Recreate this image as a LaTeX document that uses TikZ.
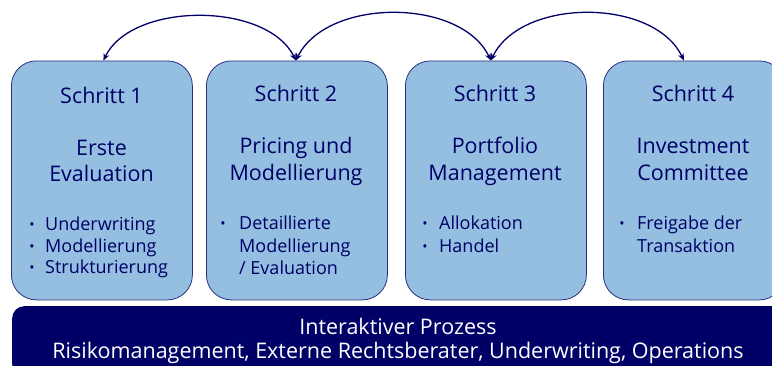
\documentclass[tikz,border=0pt]{standalone}
\usepackage{fontspec}
\setmainfont{Open Sans}
\usetikzlibrary{arrows.meta}
\definecolor{navy}{HTML}{000066}
\definecolor{boxblue}{HTML}{95BFE1}
\definecolor{boxline}{HTML}{28307E}
\begin{document}
\begin{tikzpicture}[x=1pt,y=-1pt,
  stepbox/.style={draw=boxline, line width=0.8pt, fill=boxblue, rounded corners=25pt,
    minimum width=181pt, minimum height=239pt, anchor=north west, inner sep=0pt},
  barbox/.style={fill=navy, rounded corners=12pt, minimum width=790pt, minimum height=70pt,
    anchor=north west, inner sep=0pt},
  ttl/.style={anchor=base, font=\fontsize{21.5}{26}\selectfont, text=navy, inner sep=0pt},
  bul/.style={anchor=base west, font=\fontsize{18}{21.5}\selectfont, text=navy, inner sep=0pt},
  dot/.style={anchor=base, font=\fontsize{14}{14}\selectfont, text=navy, inner sep=0pt},
  bartxt/.style={anchor=base, font=\fontsize{21.5}{24}\selectfont, text=white, inner sep=0pt},
  arc/.style={draw=navy, line width=1.3pt, {Stealth[length=7pt,width=6pt]}-{Stealth[length=7pt,width=6pt]}}
]
\useasboundingbox (0,0) rectangle (772,365);
\clip (0,0) rectangle (772,365);
% boxes
\node[stepbox] (b1) at (11,60.5) {};
\node[stepbox] (b2) at (206,60.5) {};
\node[stepbox] (b3) at (405,60.5) {};
\node[stepbox] (b4) at (603,60.5) {};
\node[barbox] (bar) at (12,306) {};
% box 1
\node[ttl] (s1) at (101.5,103) {Schritt 1};
\node[ttl] (t1a) at (101.5,155) {Erste};
\node[ttl] (t1b) at (101.5,181) {Evaluation};
\node[dot] (d1a) at (32,229.5) {\textbullet};
\node[dot] (d1b) at (32,251.5) {\textbullet};
\node[dot] (d1c) at (32,272.5) {\textbullet};
\node[bul] (u1a) at (45,230) {Underwriting};
\node[bul] (u1b) at (45,252) {Modellierung};
\node[bul] (u1c) at (45,273) {Strukturierung};
% box 2
\node[ttl] (s2) at (296,101) {Schritt 2};
\node[ttl] (t2a) at (296,153) {Pricing und};
\node[ttl] (t2b) at (296,180) {Modellierung};
\node[dot] (d2a) at (223,228.5) {\textbullet};
\node[bul] (u2a) at (239,229) {Detaillierte};
\node[bul] (u2b) at (239,252) {Modellierung};
\node[bul] (u2c) at (239,274) {/ Evaluation};
% box 3
\node[ttl] (s3) at (495,101) {Schritt 3};
\node[ttl] (t3a) at (495,153) {Portfolio};
\node[ttl] (t3b) at (495,180) {Management};
\node[dot] (d3a) at (425,228.5) {\textbullet};
\node[dot] (d3b) at (425,251.5) {\textbullet};
\node[bul] (u3a) at (439,229) {Allokation};
\node[bul] (u3b) at (439,252) {Handel};
% box 4
\node[ttl] (s4) at (693,101) {Schritt 4};
\node[ttl] (t4a) at (693,153) {Investment};
\node[ttl] (t4b) at (693,180) {Committee};
\node[dot] (d4a) at (622,228.5) {\textbullet};
\node[bul] (u4a) at (637,229) {Freigabe der};
\node[bul] (u4b) at (637,252) {Transaktion};
% bar text
\node[bartxt] (p1) at (398,334) {Interaktiver Prozess};
\node[bartxt] (p2) at (398,358) {Risikomanagement, Externe Rechtsberater, Underwriting, Operations};
% arcs
\draw[arc] ([xshift=1.5pt]b1.north) .. controls ([shift={(30,-59)}]b1.north) and ([shift={(-30,-59)}]b2.north) .. ([xshift=-1pt]b2.north);
\draw[arc] ([xshift=-1pt]b2.north) .. controls ([shift={(30,-63)}]b2.north) and ([shift={(-35,-63)}]b3.north) .. ([xshift=-5pt]b3.north);
\draw[arc] ([xshift=-5pt]b3.north) .. controls ([shift={(25,-63)}]b3.north) and ([shift={(-40,-63)}]b4.north) .. ([xshift=-10pt]b4.north);
\end{tikzpicture}
\end{document}
